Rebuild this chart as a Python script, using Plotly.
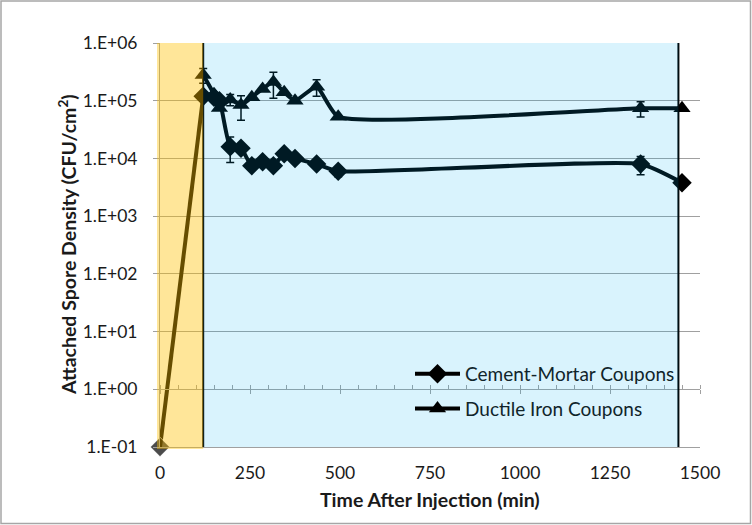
import plotly.graph_objects as go

# ---------------- data ----------------
cm_time = [0, 120, 150, 165, 195, 225, 255, 285, 315, 345, 375, 435, 495, 1335, 1450]
cm_val = [0.1, 1.2e5, 1.15e5, 1.0e5, 1.6e4, 1.5e4, 7.5e3, 8.8e3, 7.5e3, 1.2e4, 1.0e4, 8.0e3, 6.0e3, 8.0e3, 3.8e3]
cm_err = [0, 0, 0, 0, 7.5e3, 0, 0, 0, 0, 0, 0, 0, 1.2e3, 2.8e3, 0]

di_time = [120, 150, 165, 195, 225, 255, 285, 315, 345, 375, 435, 495, 1335, 1450]
di_val = [2.8e5, 1.3e5, 7.5e4, 1.05e5, 8.4e4, 1.15e5, 1.6e5, 2.1e5, 1.4e5, 1.0e5, 1.75e5, 5.3e4, 7.4e4, 7.4e4]
di_err = [8e4, 0, 0, 2.3e4, 3.8e4, 0, 0, 1.0e5, 0, 0, 5.5e4, 0, 2.2e4, 0]

y_tickvals = [0.1, 1, 10, 100, 1e3, 1e4, 1e5, 1e6]
y_ticktext = ["1.E-01", "1.E+00", "1.E+01", "1.E+02", "1.E+03", "1.E+04", "1.E+05", "1.E+06"]
x_tickvals = [0, 250, 500, 750, 1000, 1250, 1500]

x_title = "<b>Time After Injection (min)</b>"
y_title = "<b>Attached Spore Density (CFU/cm<sup>2</sup>)</b>"

injection_end = 120      # end of injection period (min)
monitor_end = 1440       # end of monitoring period (min)

# ---------------- layout constants ----------------
W, H = 752, 525
ML, MR, MT, MB = 160, 52, 43, 78
PW, PH = W - ML - MR, H - MT - MB
FONT = "Lato"
GRID = "#a0a0a0"
TXT = "#1a1a1a"


def px_x(p):
    return (p - ML) / PW


def px_y(p):
    return (MT + PH - p) / PH


fig = go.Figure()

# first (injection) segment of cement-mortar series, straight
fig.add_trace(go.Scatter(
    x=cm_time[:2], y=cm_val[:2], mode="lines+markers", cliponaxis=False,
    line=dict(color="black", width=4),
    marker=dict(symbol="diamond", size=[15, 0], color="black"),
    showlegend=False, hoverinfo="skip"))

fig.add_trace(go.Scatter(
    x=cm_time[1:], y=cm_val[1:], mode="lines+markers", cliponaxis=False,
    name="Cement-Mortar Coupons", legendgroup="a",
    line=dict(color="black", width=4, shape="spline", smoothing=0.5),
    marker=dict(symbol="diamond", size=15, color="black"),
    error_y=dict(type="data", array=cm_err[1:], visible=True,
                 color="black", thickness=1.5, width=4)))

fig.add_trace(go.Scatter(
    x=di_time, y=di_val, mode="lines+markers", cliponaxis=False,
    name="Ductile Iron Coupons", legendgroup="b",
    line=dict(color="black", width=4, shape="spline", smoothing=0.5),
    marker=dict(symbol="triangle-up", size=15, color="black"),
    error_y=dict(type="data", array=di_err, visible=True,
                 color="black", thickness=1.5, width=4)))

# dummy traces to materialise the crossing axes
fig.add_trace(go.Scatter(x=[None], y=[None], xaxis="x2", showlegend=False, hoverinfo="skip"))
fig.add_trace(go.Scatter(x=[None], y=[None], xaxis="x3", showlegend=False, hoverinfo="skip"))

cross_pos = (0 - (-1)) / 7.0  # y=1 on a log axis spanning 1e-1..1e6

shapes = [
    dict(type="line", xref="x", yref="paper", x0=injection_end, x1=injection_end, y0=0, y1=1,
         line=dict(color="black", width=2), layer="above"),
    dict(type="line", xref="x", yref="paper", x0=monitor_end, x1=monitor_end, y0=0, y1=1,
         line=dict(color="black", width=2), layer="above"),
    dict(type="rect", xref="x", yref="paper", x0=injection_end, x1=monitor_end, y0=0, y1=1,
         fillcolor="rgb(0,176,240)", opacity=0.15, line=dict(width=0), layer="above"),
    dict(type="rect", xref="paper", yref="paper", x0=-3 / PW, x1=injection_end / 1500,
         y0=-2 / PH, y1=1.0,
         fillcolor="rgb(255,192,0)", opacity=0.4, line=dict(width=0), layer="above"),
    # outer chart border
    dict(type="rect", xref="paper", yref="paper",
         x0=px_x(1), x1=px_x(W - 1.5), y0=px_y(H - 1.5), y1=px_y(1),
         line=dict(color="#a6a6a6", width=1.5), fillcolor="rgba(0,0,0,0)", layer="below"),
]

annotations = [
    dict(text=x_title, xref="paper", yref="paper", x=px_x(430), y=px_y(499),
         xanchor="center", yanchor="middle", showarrow=False,
         font=dict(size=19.5, color=TXT, family=FONT)),
    dict(text=y_title, xref="paper", yref="paper", x=px_x(67), y=px_y(245), textangle=-90,
         xanchor="center", yanchor="middle", showarrow=False,
         font=dict(size=19.5, color=TXT, family=FONT)),
]

fig.update_layout(
    width=W, height=H,
    margin=dict(l=ML, r=MR, t=MT, b=MB, autoexpand=False),
    paper_bgcolor="white", plot_bgcolor="white",
    font=dict(family=FONT, size=17.5, color=TXT),
    shapes=shapes,
    annotations=annotations,
    showlegend=True,
    legend=dict(x=px_x(410), y=px_y(355), xanchor="left", yanchor="top",
                bgcolor="rgba(0,0,0,0)", font=dict(size=19, color="#10242a"),
                itemwidth=45, tracegroupgap=7),
    xaxis=dict(type="linear", range=[0, 1500], tickvals=x_tickvals, showgrid=False,
               zeroline=False, showline=True, linecolor=GRID, linewidth=1,
               ticks="", ticklabelstandoff=10, tickfont=dict(size=17.5, color=TXT)),
    xaxis2=dict(overlaying="x", anchor="free", position=cross_pos, range=[0, 1500],
                dtick=250, tick0=0, showticklabels=False, showgrid=False, zeroline=False,
                showline=True, linecolor=GRID, linewidth=1,
                ticks="outside", ticklen=4, tickcolor=GRID,
                minor=dict(dtick=50, tick0=0, ticks="inside", ticklen=4, tickcolor=GRID, showgrid=False)),
    xaxis3=dict(overlaying="x", anchor="free", position=cross_pos, range=[0, 1500],
                dtick=250, tick0=0, showticklabels=False, showgrid=False, zeroline=False,
                showline=False, ticks="inside", ticklen=4, tickcolor=GRID),
    yaxis=dict(type="log", range=[-1, 6], tickvals=y_tickvals, ticktext=y_ticktext,
               showgrid=True, gridcolor=GRID, gridwidth=1, zeroline=False,
               showline=True, linecolor=GRID, linewidth=1,
               ticks="outside", ticklen=6, tickcolor=GRID, ticklabelstandoff=12,
               tickfont=dict(size=17.5, color=TXT)),
)

fig.write_html("out.html", config={"displayModeBar": False},
               post_script="document.body.style.margin='0';document.body.style.padding='0';")
